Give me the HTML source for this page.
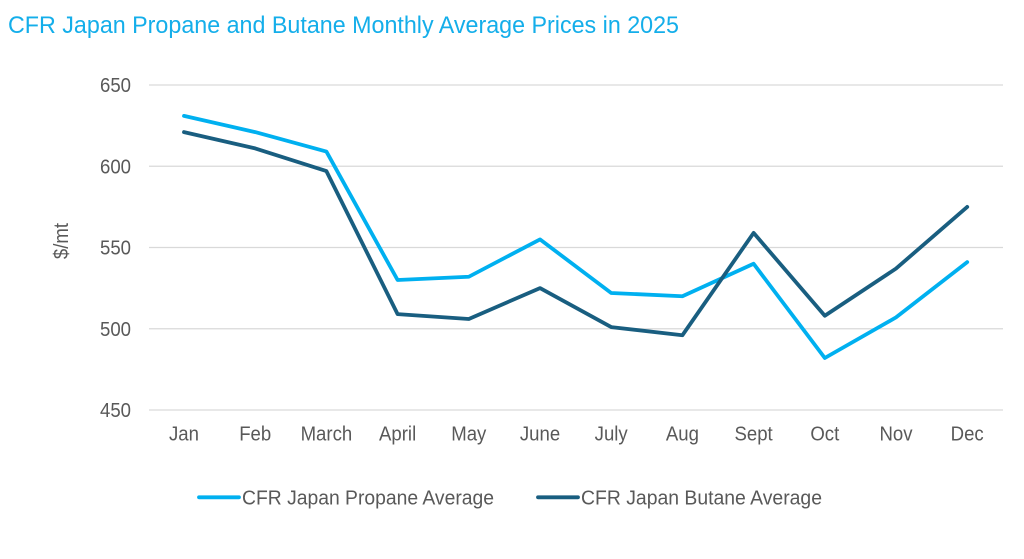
<!DOCTYPE html>
<html>
<head>
<meta charset="utf-8">
<style>
  html, body { margin: 0; padding: 0; background: #ffffff; }
  body { width: 1024px; height: 559px; overflow: hidden; }
  svg { display: block; }
  text { font-family: "Liberation Sans", Arial, sans-serif; }
</style>
</head>
<body>
<svg width="1024" height="559" viewBox="0 0 1024 559" xmlns="http://www.w3.org/2000/svg">
  <rect x="0" y="0" width="1024" height="559" fill="#ffffff"/>

  <!-- Title -->
  <text x="8" y="33" font-size="24" fill="#14AEEA" textLength="671" lengthAdjust="spacingAndGlyphs">CFR Japan Propane and Butane Monthly Average Prices in 2025</text>

  <!-- Gridlines -->
  <g stroke="#D9D9D9" stroke-width="1.3">
    <line x1="149" y1="85" x2="1003" y2="85"/>
    <line x1="149" y1="166.25" x2="1003" y2="166.25"/>
    <line x1="149" y1="247.5" x2="1003" y2="247.5"/>
    <line x1="149" y1="328.75" x2="1003" y2="328.75"/>
    <line x1="149" y1="410" x2="1003" y2="410"/>
  </g>

  <!-- Y tick labels -->
  <g font-size="20" fill="#595959" text-anchor="end">
    <text transform="translate(131,92.2) scale(0.93,1)">650</text>
    <text transform="translate(131,173.4) scale(0.93,1)">600</text>
    <text transform="translate(131,254.7) scale(0.93,1)">550</text>
    <text transform="translate(131,335.9) scale(0.93,1)">500</text>
    <text transform="translate(131,417.2) scale(0.93,1)">450</text>
  </g>

  <!-- Y axis title -->
  <text transform="translate(68,241) rotate(-90) scale(0.93,1)" font-size="20" fill="#595959" text-anchor="middle">$/mt</text>

  <!-- X tick labels -->
  <g font-size="20" fill="#595959" text-anchor="middle">
    <text transform="translate(184,440.5) scale(0.93,1)">Jan</text>
    <text transform="translate(255.2,440.5) scale(0.93,1)">Feb</text>
    <text transform="translate(326.4,440.5) scale(0.93,1)">March</text>
    <text transform="translate(397.6,440.5) scale(0.93,1)">April</text>
    <text transform="translate(468.8,440.5) scale(0.93,1)">May</text>
    <text transform="translate(540,440.5) scale(0.93,1)">June</text>
    <text transform="translate(611.2,440.5) scale(0.93,1)">July</text>
    <text transform="translate(682.4,440.5) scale(0.93,1)">Aug</text>
    <text transform="translate(753.6,440.5) scale(0.93,1)">Sept</text>
    <text transform="translate(824.8,440.5) scale(0.93,1)">Oct</text>
    <text transform="translate(896,440.5) scale(0.93,1)">Nov</text>
    <text transform="translate(967.2,440.5) scale(0.93,1)">Dec</text>
  </g>

  <!-- Propane series -->
  <polyline fill="none" stroke="#00B0F0" stroke-width="3.8" stroke-linejoin="round" stroke-linecap="round"
    points="184,115.9 255.2,132.1 326.4,151.6 397.6,280 468.8,276.75 540,239.4 611.2,293 682.4,296.25 753.6,263.75 824.8,358 896,317.4 967.2,262.1"/>

  <!-- Butane series -->
  <polyline fill="none" stroke="#195E80" stroke-width="3.8" stroke-linejoin="round" stroke-linecap="round"
    points="184,132.1 255.2,148.4 326.4,171.1 397.6,314.1 468.8,319 540,288.1 611.2,327.1 682.4,335.25 753.6,232.9 824.8,315.75 896,268.6 967.2,206.9"/>

  <!-- Legend -->
  <line x1="199" y1="497.3" x2="239" y2="497.3" stroke="#00B0F0" stroke-width="3.8" stroke-linecap="round"/>
  <text x="242" y="504.5" font-size="20" fill="#595959" textLength="252" lengthAdjust="spacingAndGlyphs">CFR Japan Propane Average</text>

  <line x1="538" y1="497.3" x2="578" y2="497.3" stroke="#195E80" stroke-width="3.8" stroke-linecap="round"/>
  <text x="581" y="504.5" font-size="20" fill="#595959" textLength="241" lengthAdjust="spacingAndGlyphs">CFR Japan Butane Average</text>
</svg>
</body>
</html>
